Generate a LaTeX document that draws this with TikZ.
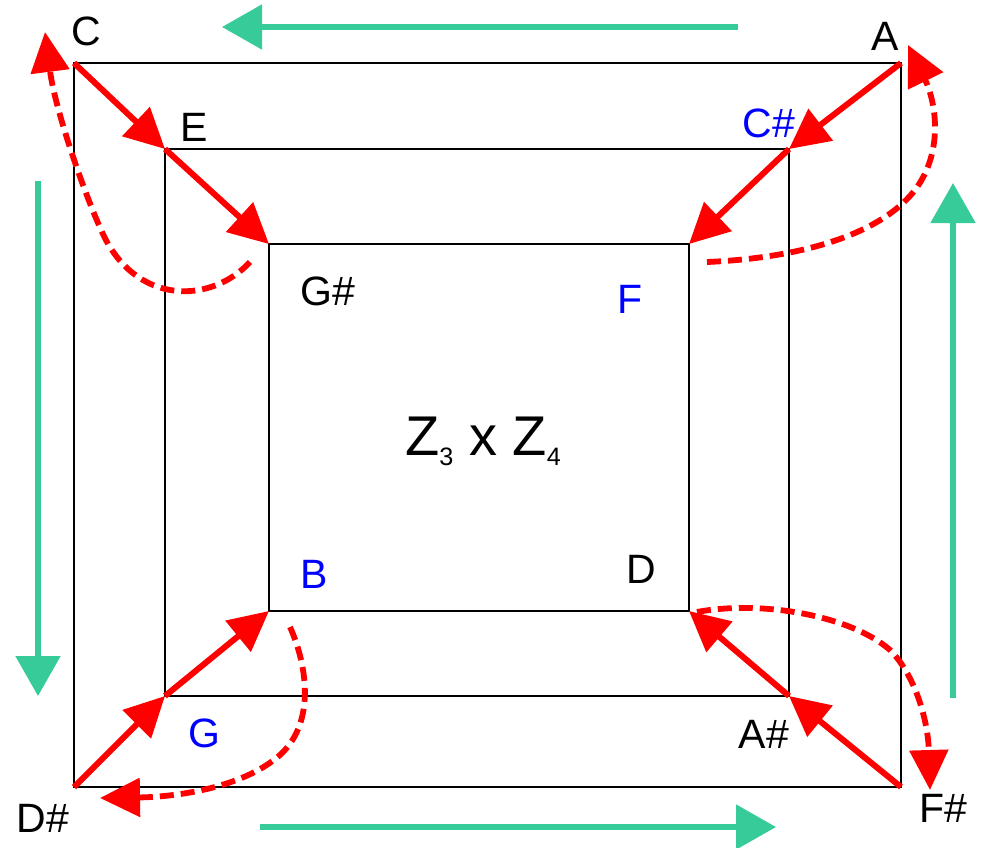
\documentclass[tikz,border=0pt]{standalone}
\usepackage{fontspec}
\setmainfont{Liberation Sans}
\usetikzlibrary{arrows.meta}
\definecolor{seagreen}{RGB}{54,203,152}
\newcommand{\lowsub}[1]{\raisebox{-5pt}{\fontsize{12.6}{14}\selectfont #1}}

\begin{document}
\begin{tikzpicture}[
	x=0.5pt, y=-0.5pt,
	frame/.style={ draw=black, line width=0.6pt },
	redarr/.style={ red, line width=3pt, -{Triangle[length=20pt,width=19.5pt]} },
	reddash/.style={ red, line width=2.9pt, dash pattern=on 7pt off 3.5pt, -{Triangle[length=20pt,width=19pt]} },
	greenarr/.style={ seagreen, line width=2.6pt, -{Triangle[length=20pt,width=22pt]} },
	note/.style={ font=\fontsize{20.5}{24}\selectfont, anchor=base, inner sep=0pt },
	noteb/.style={ note, text=blue }
]
\useasboundingbox (0,0) rectangle (984,847);

\coordinate (oTL) at (74,63);
\coordinate (oTR) at (901,63);
\coordinate (oBR) at (901,787);
\coordinate (oBL) at (74,787);
\draw[frame] (oTL) -- (oTR) -- (oBR) -- (oBL) -- cycle;

\coordinate (mTL) at (165,149);
\coordinate (mTR) at (789,149);
\coordinate (mBR) at (789,696);
\coordinate (mBL) at (165,696);
\draw[frame] (mTL) -- (mTR) -- (mBR) -- (mBL) -- cycle;

\coordinate (iTL) at (269,244);
\coordinate (iTR) at (689,244);
\coordinate (iBR) at (689,611);
\coordinate (iBL) at (269,611);
\draw[frame] (iTL) -- (iTR) -- (iBR) -- (iBL) -- cycle;

\node at (86,45) (c) [note] {C};
\node at (194,141) (e) [note] {E};
\node at (328,305) (gs) [note] {G\#};
\node at (885,50) (a) [note] {A};
\node at (769,137) (cs) [noteb] {C\#};
\node at (630,313) (f) [noteb] {F};
\node at (43,832) (ds) [note] {D\#};
\node at (204,747) (g) [noteb] {G};
\node at (314,588) (b) [noteb] {B};
\node at (943,822) (fs) [note] {F\#};
\node at (764,748) (as) [note] {A\#};
\node at (641,583) (d) [note] {D};

\node at (483,455) (group) [anchor=base, inner sep=0pt, font=\fontsize{28}{32}\selectfont] {Z\lowsub{3} x Z\lowsub{4}};

\foreach \p/\q in {oTL/mTL, mTL/iTL, oTR/mTR, mTR/iTR, oBL/mBL, mBL/iBL, oBR/mBR, mBR/iBR}
	\draw[redarr] (\p) -- (\q);

\coordinate (sTL) at (250,262);
\coordinate (eTL) at (45,32);
\draw[reddash] (sTL) .. controls (210,305) and (135,305) .. (102,232) .. controls (85,195) and (55,110) .. (eTL);

\coordinate (sTR) at (707,262);
\coordinate (eTR) at (908,45);
\draw[reddash] (sTR) .. controls (800,258) and (880,235) .. (915,190) .. controls (945,150) and (935,100) .. (eTR);

\coordinate (sBR) at (697,612);
\coordinate (eBR) at (930,790);
\draw[reddash] (sBR) .. controls (760,600) and (850,615) .. (890,650) .. controls (915,675) and (928,720) .. (eBR);

\coordinate (sBL) at (290,627);
\coordinate (eBL) at (100,798);
\draw[reddash] (sBL) .. controls (305,660) and (318,720) .. (280,755) .. controls (240,790) and (170,797) .. (eBL);

\coordinate (top1) at (738,27);
\coordinate (top2) at (222,27);
\coordinate (left1) at (38,181);
\coordinate (left2) at (38,696);
\coordinate (bot1) at (260,827);
\coordinate (bot2) at (776,827);
\coordinate (right1) at (953,698);
\coordinate (right2) at (953,183);
\foreach \p/\q in {top1/top2, left1/left2, bot1/bot2, right1/right2}
	\draw[greenarr] (\p) -- (\q);

\end{tikzpicture}
\end{document}
